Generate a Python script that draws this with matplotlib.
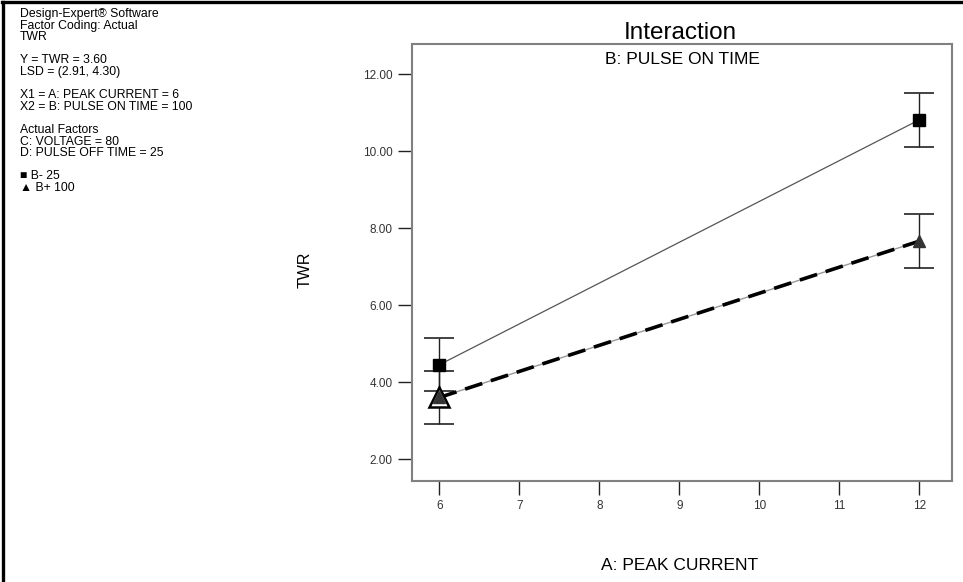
import matplotlib
matplotlib.use("Agg")
import matplotlib.pyplot as plt
from matplotlib.lines import Line2D

plt.rcParams['font.family'] = ['Liberation Sans', 'DejaVu Sans']

# data
peak_current = [6, 12]
twr_b_minus = [4.45, 10.81]     # B- 25
twr_b_plus = [3.60, 7.66]       # B+ 100
lsd_half = [0.69, 0.70]
x_ticks = [6, 7, 8, 9, 10, 11, 12]
y_ticks = [2, 4, 6, 8, 10, 12]

info_lines = [
    "Design-Expert\u00ae Software",
    "Factor Coding: Actual",
    "TWR",
    "",
    "Y = TWR = 3.60",
    "LSD = (2.91, 4.30)",
    "",
    "X1 = A: PEAK CURRENT = 6",
    "X2 = B: PULSE ON TIME = 100",
    "",
    "Actual Factors",
    "C: VOLTAGE = 80",
    "D: PULSE OFF TIME = 25",
    "",
    "\u25a0 B- 25",
    "\u25b2 B+ 100",
]

fig = plt.figure(figsize=(9.63, 5.82), dpi=100)
ax = fig.add_axes([0.428, 0.1735, 0.5606, 0.7509])

# B- line with error bars
ax.plot(peak_current, twr_b_minus, color='#555555', lw=0.9, zorder=2)
ax.errorbar(peak_current, twr_b_minus, yerr=lsd_half, fmt='none',
            ecolor='#222222', elinewidth=1, capsize=11, capthick=1.2, zorder=3)
ax.plot(peak_current, twr_b_minus, 's', color='black', ms=8, zorder=5)

# B+ line with error bars
ax.plot(peak_current, twr_b_plus, color='#999999', lw=1, zorder=2)
ax.plot(peak_current, twr_b_plus, color='black', lw=2.6, ls=(0, (5, 2.5)), zorder=3)
ax.errorbar(peak_current, twr_b_plus, yerr=lsd_half, fmt='none',
            ecolor='#222222', elinewidth=1, capsize=11, capthick=1.2, zorder=3)
# highlighted current design point
ax.plot(peak_current[0], twr_b_plus[0], '^', mfc='white', mec='black',
        mew=1.8, ms=15, zorder=5)
ax.plot(peak_current, twr_b_plus, '^', color='#333333', ms=9, zorder=6)

ax.set_xlim(5.66, 12.41)
ax.set_ylim(1.43, 12.78)
ax.set_xticks(x_ticks)
ax.set_xticklabels([str(v) for v in x_ticks])
ax.set_yticks(y_ticks)
ax.set_yticklabels(["%.2f" % v for v in y_ticks])
ax.tick_params(axis='both', direction='out', length=10, width=1,
               color='#222222', labelsize=8.5, labelcolor='#333333')
ax.tick_params(axis='x', pad=4)
ax.tick_params(axis='y', pad=4)
for s in ax.spines.values():
    s.set_color('#808080')
    s.set_linewidth(1.5)

ax.text(0.5, 0.982, "B: PULSE ON TIME", transform=ax.transAxes,
        ha='center', va='top', fontsize=12.5)
fig.text(0.706, 0.943, "Interaction", ha='center', va='center', fontsize=17.5)
fig.text(0.706, 0.029, "A: PEAK CURRENT", ha='center', va='center', fontsize=12.5)
fig.text(0.317, 0.536, "TWR", rotation=90, ha='center', va='center', fontsize=11.5)

# info block on the left
y0 = 0.986
for i, line in enumerate(info_lines):
    fig.text(0.021, y0 - i * 0.0199, line, ha='left', va='top', fontsize=8.8)

# thick frame on top and left
fig.add_artist(Line2D([0.002, 1.0], [0.997, 0.997], color='black', lw=2.4,
                      transform=fig.transFigure))
fig.add_artist(Line2D([0.003, 0.003], [0.0, 0.997], color='black', lw=2.4,
                      transform=fig.transFigure))

fig.savefig("out.png", dpi=100)
